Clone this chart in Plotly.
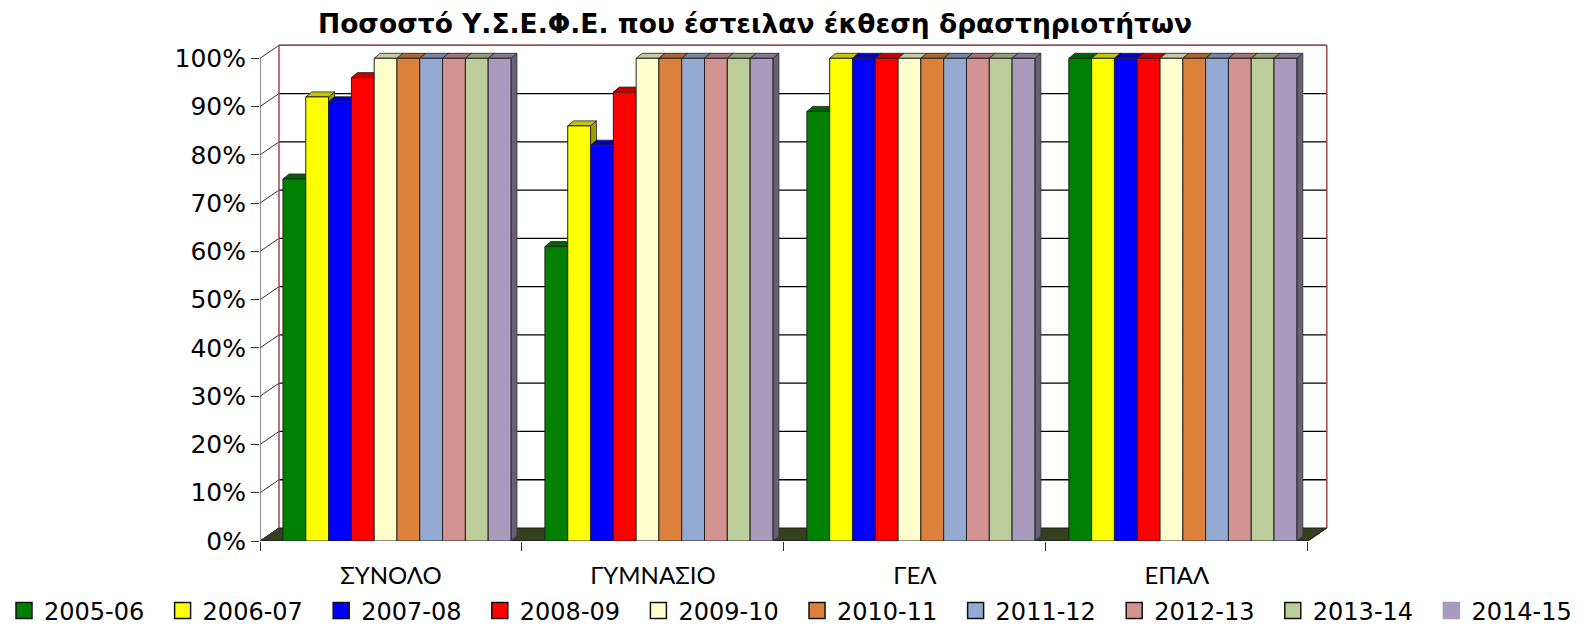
import plotly.graph_objects as go

# ---------------- data ----------------
categories = ["ΣΥΝΟΛΟ", "ΓΥΜΝΑΣΙΟ", "ΓΕΛ", "ΕΠΑΛ"]
years = ["2005-06", "2006-07", "2007-08", "2008-09", "2009-10",
         "2010-11", "2011-12", "2012-13", "2013-14", "2014-15"]
v_2005_06 = [75, 61, 89, 100]
v_2006_07 = [92, 86, 100, 100]
v_2007_08 = [91, 82, 100, 100]
v_2008_09 = [96, 93, 100, 100]
v_2009_10 = [100, 100, 100, 100]
v_2010_11 = [100, 100, 100, 100]
v_2011_12 = [100, 100, 100, 100]
v_2012_13 = [100, 100, 100, 100]
v_2013_14 = [100, 100, 100, 100]
v_2014_15 = [100, 100, 100, 100]
series = [v_2005_06, v_2006_07, v_2007_08, v_2008_09, v_2009_10,
          v_2010_11, v_2011_12, v_2012_13, v_2013_14, v_2014_15]
y_ticks = [0, 10, 20, 30, 40, 50, 60, 70, 80, 90, 100]
y_tick_labels = ["0%", "10%", "20%", "30%", "40%", "50%",
                 "60%", "70%", "80%", "90%", "100%"]
title_text = "Ποσοστό Υ.Σ.Ε.Φ.Ε. που έστειλαν έκθεση δραστηριοτήτων"

colors = ["#008000", "#FFFF00", "#0000FF", "#FF0000", "#FFFFCC",
          "#DD823D", "#95AAD2", "#D49393", "#BCCD99", "#A99BBD"]

# ---------------- geometry / style ----------------
W, H = 1581, 629
ML, MR, MT, MB = 260, 247, 39, 88
XR = [-0.5, 3.6]
YR = [0, 104]
pw = W - ML - MR
ph = H - MT - MB
pxu_x = pw / (XR[1] - XR[0])
pxu_y = ph / (YR[1] - YR[0])

bar_w = 22.8 / pxu_x
bar_off0 = -108 / pxu_x
dxb, dyb = 6 / pxu_x, 5 / pxu_y        # bar depth
dxw, dyw = 19 / pxu_x, 13 / pxu_y      # wall depth


def shade(hexc, f):
    h = hexc.lstrip("#")
    r, g, b = (int(h[i:i + 2], 16) for i in (0, 2, 4))
    return "#%02x%02x%02x" % (int(r * f), int(g * f), int(b * f))


fig = go.Figure()
shapes = []

# floor
x0, x1 = -0.5, 3.5
shapes.append(dict(type="path", layer="below", xref="x", yref="y",
                   path=f"M {x0},0 L {x1},0 L {x1+dxw},{dyw} L {x0+dxw},{dyw} Z",
                   fillcolor="#34401f", line=dict(color="#1e2412", width=1)))
# back-wall gridlines and diagonals
for v in y_ticks:
    if v > 0:
        shapes.append(dict(type="line", layer="below", xref="x", yref="y",
                           x0=x0 + dxw, x1=x1 + dxw, y0=v + dyw, y1=v + dyw,
                           line=dict(color="#000000", width=1.3)))
    shapes.append(dict(type="line", layer="below", xref="x", yref="y",
                       x0=x0, x1=x0 + dxw, y0=v, y1=v + dyw,
                       line=dict(color="#333333", width=1)))
# wall borders (dark red)
wall_c = "#a04848"
shapes.append(dict(type="line", layer="below", xref="x", yref="y",
                   x0=x0 + dxw, x1=x0 + dxw, y0=dyw, y1=100 + dyw,
                   line=dict(color=wall_c, width=1.5)))
shapes.append(dict(type="line", layer="below", xref="x", yref="y",
                   x0=x0 + dxw, x1=x1 + dxw, y0=100 + dyw, y1=100 + dyw,
                   line=dict(color=wall_c, width=1.5)))
shapes.append(dict(type="line", layer="below", xref="x", yref="y",
                   x0=x1 + dxw, x1=x1 + dxw, y0=dyw, y1=100 + dyw,
                   line=dict(color=wall_c, width=1.5)))
# front axis lines
shapes.append(dict(type="line", layer="below", xref="x", yref="y",
                   x0=x0, x1=x0, y0=0, y1=100, line=dict(color="#555555", width=1.3)))
shapes.append(dict(type="line", layer="below", xref="x", yref="y",
                   x0=x0, x1=x1, y0=0, y1=0, line=dict(color="#222222", width=1.3)))
shapes.append(dict(type="line", layer="below", xref="x", yref="y",
                   x0=x1, x1=x1 + dxw, y0=0, y1=dyw, line=dict(color="#222222", width=1)))

# bars + 3D faces
for i, (name, vals, col) in enumerate(zip(years, series, colors)):
    off = bar_off0 + i * bar_w
    fig.add_trace(go.Bar(
        x=categories, y=vals, name=name, offset=off, width=bar_w,
        marker=dict(color=col, line=dict(color="#222222", width=1)),
        showlegend=False, legendgroup=name,
        hovertemplate="%{x}<br>" + name + ": %{y}%<extra></extra>"))
    for j, v in enumerate(vals):
        L = j + off
        R = L + bar_w
        shapes.append(dict(type="path", layer="below", xref="x", yref="y",
                           path=f"M {R},{v} L {R+dxb},{v+dyb} L {R+dxb},{dyb} L {R},0 Z",
                           fillcolor=shade(col, 0.62), line=dict(color="#333333", width=0.8)))
        shapes.append(dict(type="path", layer="below", xref="x", yref="y",
                           path=f"M {L},{v} L {L+dxb},{v+dyb} L {R+dxb},{v+dyb} L {R},{v} Z",
                           fillcolor=shade(col, 0.78), line=dict(color="#222222", width=0.8)))
    # legend marker
    fig.add_trace(go.Scatter(
        x=[None], y=[None], mode="markers", name=name, legendgroup=name,
        legend="legend" if i < 5 else "legend2",
        marker=dict(symbol="square", size=16, color=col,
                    line=dict(color="#111111" if i < 9 else col, width=1.5)),
        hoverinfo="skip"))

leg_common = dict(orientation="h", yanchor="middle", xanchor="left",
                  font=dict(family="DejaVu Sans", size=24, color="#000000"),
                  entrywidth=113.6, entrywidthmode="pixels",
                  bgcolor="rgba(0,0,0,0)", borderwidth=0, itemclick="toggle")
leg_y = (H - MB - 611) / ph

fig.update_layout(
    width=W, height=H,
    margin=dict(l=ML, r=MR, t=MT, b=MB, autoexpand=False),
    paper_bgcolor="#ffffff", plot_bgcolor="#ffffff",
    barmode="group",
    title=dict(text=title_text, x=755 / W, xanchor="center", y=1 - 24 / H, yanchor="middle",
               font=dict(family="DejaVu Sans", size=26.5, color="#000000", weight="bold")),
    xaxis=dict(type="category", range=XR, showgrid=False, zeroline=False, showline=False,
               tickson="boundaries", ticks="outside", ticklen=9, tickcolor="#333333",
               tickwidth=1.3, ticklabelstandoff=18,
               tickfont=dict(family="Lato", size=24, color="#000000")),
    yaxis=dict(range=YR, showgrid=False, zeroline=False, showline=False,
               tickmode="array", tickvals=y_ticks, ticktext=y_tick_labels,
               ticks="outside", ticklen=8, tickcolor="#333333", tickwidth=1.3,
               ticklabelstandoff=0,
               tickfont=dict(family="DejaVu Sans", size=25, color="#000000")),
    legend=dict(leg_common, x=(4 - ML) / pw, y=leg_y),
    legend2=dict(leg_common, x=(4 + 5 * 158.6 - ML) / pw, y=leg_y),
    shapes=shapes,
)

fig.write_html("out.html",
               config={"displayModeBar": False},
               post_script="document.body.style.margin='0px';"
                           "document.body.style.overflow='hidden';")
